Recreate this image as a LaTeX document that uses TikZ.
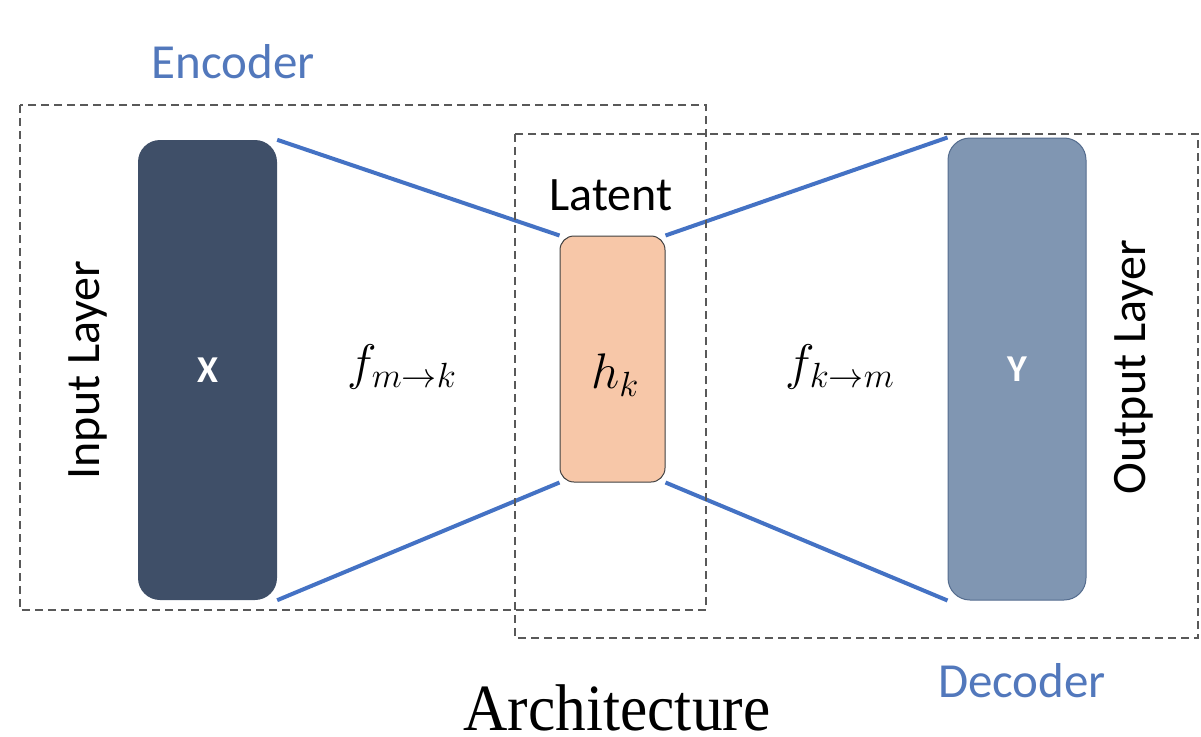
\RequirePackage{fix-cm}
\documentclass[tikz,border=0pt]{standalone}
\usepackage{fontspec}
\setmainfont{Carlito}
\newfontfamily\captionfont{Liberation Serif}
\usetikzlibrary{backgrounds}

\definecolor{inblue}{RGB}{63,79,104}
\definecolor{outblue}{RGB}{128,150,178}
\definecolor{outedge}{RGB}{84,108,142}
\definecolor{peach}{RGB}{247,199,168}
\definecolor{linkblue}{RGB}{68,114,196}
\definecolor{tagblue}{RGB}{82,120,188}

\begin{document}
\begin{tikzpicture}[
	x=1pt, y=-1pt,
	layer/.style={
		rectangle,
		rounded corners=22pt,
		inner sep=0pt,
		text=white,
		font=\fontsize{38}{42}\selectfont\bfseries
	},
	latent/.style={
		rectangle,
		draw=black!75,
		line width=1pt,
		rounded corners=14pt,
		fill=peach,
		inner sep=0pt,
		minimum width=105pt,
		minimum height=246pt
	},
	group/.style={
		draw=black!65,
		line width=1.1pt,
		dash pattern=on 8pt off 5pt
	},
	link/.style={
		draw=linkblue,
		line width=4pt
	},
	tag/.style={
		text=tagblue,
		font=\fontsize{49}{55}\selectfont
	},
	label/.style={
		font=\fontsize{48}{54}\selectfont
	},
	func/.style={
		font=\fontsize{50}{56}\selectfont
	}
]

\useasboundingbox (0,0) rectangle (1201,736);

% encoder and decoder groups
\draw[group] (20,105) rectangle (706,610);
\draw[group] (515,134) rectangle (1198,638);

\node[layer, fill=inblue, minimum width=139pt, minimum height=460pt] (input) at (207.5,370) {X};
\node[latent] (code) at (612.5,359) {};
\node[layer, fill=outblue, draw=outedge, line width=1pt, minimum width=138pt, minimum height=462pt] (output) at (1017,369) {Y};

\begin{scope}[on background layer]
\draw[link] (input.north east) -- (code.north west);
\draw[link] (input.south east) -- (code.south west);
\draw[link] (code.north east) -- (output.north west);
\draw[link] (code.south east) -- (output.south west);
\end{scope}

\node[tag] (enc) at (233,62) {Encoder};
\node[tag] (dec) at (1022,681) {Decoder};
\node[label] (lat) at (611,195) {Latent};
\node[label, rotate=90] (inlabel) at (88,370) {Input Layer};
\node[label, rotate=90] (outlabel) at (1134,367) {Output Layer};

\node[func] (enc_f) at (402,367) {$f_{m\to k}$};
\node[func] (code_h) at (615,375) {$h_k$};
\node[func] (dec_f) at (840,367) {$f_{k\to m}$};

\node[font=\captionfont\fontsize{66}{70}\selectfont, xscale=0.93, inner sep=0pt] (arch) at (617,708) {Architecture};

\end{tikzpicture}
\end{document}
